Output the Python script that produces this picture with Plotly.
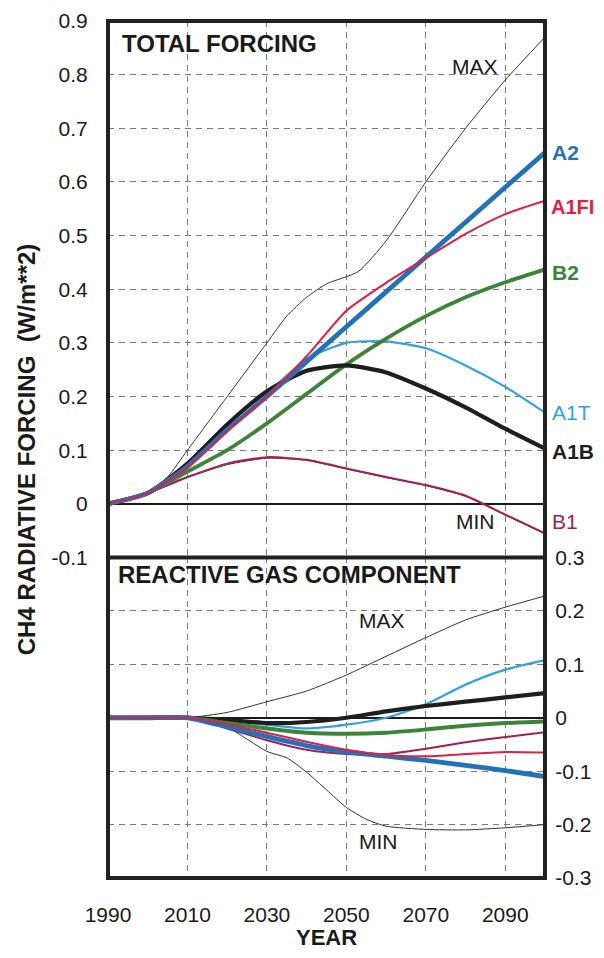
import plotly.graph_objects as go

FONT = "Liberation Sans, Arial, Helvetica, sans-serif"

# ---------------- data ----------------
YEARS = [1990, 2000, 2010, 2020, 2030, 2040, 2050, 2060, 2070, 2080, 2090, 2100]

# Total forcing (W/m**2)
A2_TOT   = [0, 0.02, 0.07, 0.138, 0.20, 0.265, 0.33, 0.395, 0.46, 0.525, 0.59, 0.655]
A1FI_TOT = [0, 0.02, 0.068, 0.135, 0.20, 0.275, 0.36, 0.412, 0.458, 0.503, 0.54, 0.565]
A1T_TOT  = [0, 0.02, 0.07, 0.138, 0.205, 0.27, 0.30, 0.303, 0.29, 0.258, 0.218, 0.17]
A1B_TOT  = [0, 0.02, 0.075, 0.148, 0.21, 0.248, 0.258, 0.245, 0.215, 0.18, 0.14, 0.103]
B2_TOT   = [0, 0.02, 0.06, 0.10, 0.15, 0.205, 0.26, 0.308, 0.35, 0.385, 0.413, 0.437]
B1_TOT   = [0, 0.02, 0.05, 0.075, 0.087, 0.082, 0.066, 0.05, 0.035, 0.015, -0.02, -0.055]
MAX_TOT_YEARS = [1990, 2000, 2005, 2010, 2020, 2030, 2035, 2040, 2045, 2053, 2060, 2070, 2080, 2090, 2100]
MAX_TOT       = [0, 0.02, 0.05, 0.10, 0.20, 0.30, 0.35, 0.385, 0.41, 0.433, 0.49, 0.60, 0.70, 0.79, 0.87]
MIN_TOT  = [0, 0.019, 0.049, 0.073, 0.085, 0.081, 0.065, 0.049, 0.034, 0.014, -0.021, -0.056]

# Reactive gas component (W/m**2)
A2_RG   = [0, 0, 0, -0.017, -0.035, -0.052, -0.064, -0.072, -0.080, -0.089, -0.099, -0.110]
A1FI_RG = [0, 0, 0, -0.012, -0.028, -0.045, -0.060, -0.070, -0.072, -0.068, -0.064, -0.065]
A1T_RG  = [0, 0, 0, -0.005, -0.013, -0.020, -0.013, 0.0, 0.025, 0.062, 0.090, 0.108]
A1B_RG  = [0, 0, 0, -0.004, -0.010, -0.008, 0.0, 0.012, 0.022, 0.030, 0.038, 0.046]
B2_RG   = [0, 0, 0, -0.010, -0.020, -0.028, -0.030, -0.028, -0.022, -0.015, -0.010, -0.007]
B1_RG   = [0, 0, 0, -0.020, -0.042, -0.060, -0.068, -0.068, -0.058, -0.046, -0.036, -0.027]
MAX_RG  = [0, 0, 0, 0.010, 0.030, 0.050, 0.080, 0.115, 0.150, 0.183, 0.207, 0.228]
MIN_RG_YEARS = [1990, 2000, 2010, 2020, 2030, 2035, 2040, 2045, 2050, 2055, 2060, 2070, 2080, 2090, 2100]
MIN_RG       = [0, 0, 0, -0.018, -0.063, -0.075, -0.102, -0.135, -0.168, -0.19, -0.203, -0.209, -0.21, -0.206, -0.20]

X_TICKS = [1990, 2010, 2030, 2050, 2070, 2090]
Y_TOP_TICKS = [0.9, 0.8, 0.7, 0.6, 0.5, 0.4, 0.3, 0.2, 0.1, 0, -0.1]
Y_BOT_TICKS = [0.3, 0.2, 0.1, 0, -0.1, -0.2, -0.3]

# ---------------- styles ----------------
C_A2 = "#2272b8"
C_A1FI = "#e01f45"
C_A1T = "#35a2dc"
C_A1B = "#1e1e1e"
C_B2 = "#3b8439"
C_B1 = "#a81d55"
C_MM = "#333333"

fig = go.Figure()

def add(x, y, color, width, top):
    fig.add_trace(go.Scatter(
        x=x, y=y, mode="lines",
        line=dict(color=color, width=width, shape="spline", smoothing=0.6),
        xaxis="x2" if top else "x", yaxis="y" if top else "y2",
        showlegend=False, hoverinfo="skip"))

# top panel
add(MAX_TOT_YEARS, MAX_TOT, C_MM, 1, True)
add(YEARS, MIN_TOT, C_MM, 1, True)
add(YEARS, B1_TOT, C_B1, 2, True)
add(YEARS, A1T_TOT, C_A1T, 2.2, True)
add(YEARS, B2_TOT, C_B2, 3.8, True)
add(YEARS, A1B_TOT, C_A1B, 4.2, True)
add(YEARS, A2_TOT, C_A2, 4.8, True)
add(YEARS, A1FI_TOT, C_A1FI, 2, True)

# bottom panel
add(YEARS, MAX_RG, C_MM, 1, False)
add(MIN_RG_YEARS, MIN_RG, C_MM, 1, False)
add(YEARS, A1T_RG, C_A1T, 2.2, False)
add(YEARS, A1B_RG, C_A1B, 4.2, False)
add(YEARS, B2_RG, C_B2, 4, False)
add(YEARS, B1_RG, C_B1, 2, False)
add(YEARS, A2_RG, C_A2, 4.8, False)
add(YEARS, A1FI_RG, C_A1FI, 2, False)

SPLIT = 0.374
grid = dict(showgrid=True, gridcolor="#7a7a7a", gridwidth=1, griddash="6px,5px")

# page body has an 8px margin, so the figure is sized to fit the 604x958 window
fig.update_layout(
    width=588, height=942,
    margin=dict(l=100, r=51, t=13, b=72, autoexpand=False),
    paper_bgcolor="white", plot_bgcolor="white",
    font=dict(family=FONT, color="#1a1a1a", size=21),
    xaxis=dict(domain=[0, 1], anchor="y2", range=[1990, 2100], automargin=False,
               tickvals=X_TICKS, ticks="outside", ticklen=18,
               tickcolor="rgba(0,0,0,0)", tickfont=dict(size=21),
               ticklabeloverflow="allow",
               zeroline=False, **grid),
    xaxis2=dict(domain=[0, 1], anchor="y", range=[1990, 2100], matches="x",
                automargin=False,
                tickvals=X_TICKS, showticklabels=False, ticks="",
                zeroline=False, **grid),
    yaxis=dict(domain=[SPLIT, 1], anchor="x2", range=[-0.1, 0.9], automargin=False,
               tickvals=Y_TOP_TICKS, ticktext=[("%g" % v) for v in Y_TOP_TICKS],
               ticks="outside", ticklen=15, tickcolor="rgba(0,0,0,0)",
               tickfont=dict(size=21), ticklabeloverflow="allow",
               zeroline=True, zerolinecolor="#1a1a1a", zerolinewidth=1.6, **grid),
    yaxis2=dict(domain=[0, SPLIT], anchor="x", range=[-0.3, 0.3], side="right",
                automargin=False,
                tickvals=Y_BOT_TICKS, ticktext=[("%g" % v) for v in Y_BOT_TICKS],
                ticks="outside", ticklen=5, tickcolor="rgba(0,0,0,0)",
                tickfont=dict(size=21), ticklabeloverflow="allow",
                zeroline=True, zerolinecolor="#1a1a1a", zerolinewidth=1.6, **grid),
)

# frame and divider
fig.add_shape(type="rect", xref="paper", yref="paper", x0=0, x1=1, y0=0, y1=1,
              line=dict(color="#222222", width=4), layer="above")
fig.add_shape(type="line", xref="paper", yref="paper", x0=0, x1=1, y0=SPLIT, y1=SPLIT,
              line=dict(color="#222222", width=4), layer="above")

def note(text, x, y, xref, yref, color="#1a1a1a", size=21, xanchor="left", **kw):
    fig.add_annotation(text=text, x=x, y=y, xref=xref, yref=yref, showarrow=False,
                       xanchor=xanchor, yanchor="middle",
                       font=dict(family=FONT, size=size, color=color), **kw)

note("<b>TOTAL FORCING</b>", 1993.0, 0.858, "x2", "y", size=24)
note("<b>REACTIVE GAS COMPONENT</b>", 1992.0, 0.268, "x", "y2", size=24)
note("MAX", 2082.5, 0.815, "x2", "y", size=21, xanchor="center")
note("MIN", 2082.5, -0.033, "x2", "y", size=21, xanchor="center")
note("MAX", 2059, 0.182, "x", "y2", size=21, xanchor="center")
note("MIN", 2058, -0.232, "x", "y2", size=21, xanchor="center")

note("<b>A2</b>", 2100, 0.654, "x2", "y", color=C_A2, xshift=5)
note("<b>A1FI</b>", 2100, 0.553, "x2", "y", color=C_A1FI, size=20, xshift=4)
note("<b>B2</b>", 2100, 0.431, "x2", "y", color=C_B2, xshift=5)
note("A1T", 2100, 0.171, "x2", "y", color=C_A1T, xshift=5)
note("<b>A1B</b>", 2100, 0.097, "x2", "y", color=C_A1B, xshift=5)
note("B1", 2100, -0.032, "x2", "y", color=C_B1, xshift=5)

note("<b>YEAR</b>", 0.5, -0.069, "paper", "paper", size=22, xanchor="center")

fig.add_annotation(text="<b>CH4 RADIATIVE FORCING \u00a0(W/m**2)</b>",
                   xref="paper", yref="paper", x=-0.186, y=0.50, textangle=-90,
                   showarrow=False, xanchor="center", yanchor="middle",
                   font=dict(family=FONT, size=24, color="#1a1a1a"))

fig.write_html("out.html")
